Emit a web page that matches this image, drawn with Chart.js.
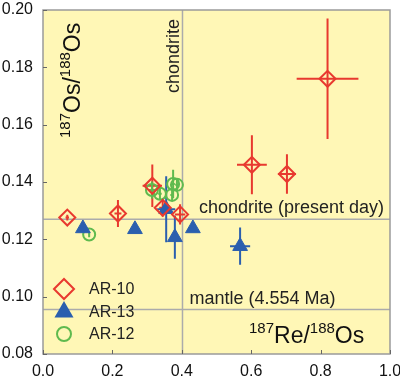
<!DOCTYPE html>
<html>
<head>
<meta charset="utf-8">
<style>
  html, body { margin: 0; padding: 0; background: #fff; }
</style>
<script src="https://cdn.jsdelivr.net/npm/chart.js@4.4.1/dist/chart.umd.min.js"></script>
</head>
<body>
<canvas id="chart" width="400" height="378"></canvas>
<script>
// Data
const ar10X  = [0.070, 0.216, 0.315, 0.345, 0.395, 0.602, 0.703, 0.820];
const ar10Y  = [0.1276, 0.1290, 0.1387, 0.1310, 0.1287, 0.1460, 0.1428, 0.1760];
const ar10Ex = [0.005, 0.010, 0.028, 0.010, 0.015, 0.043, 0.026, 0.089];
const ar10Ey = [0.001, 0.0047, 0.0074, 0.003, 0.0035, 0.0103, 0.0069, 0.021];

const ar13X  = [0.115, 0.265, 0.355, 0.380, 0.432, 0.568];
const ar13Y  = [0.1238, 0.1235, 0.1305, 0.1207, 0.1238, 0.1176];
const ar13Ex = [0, 0, 0.026, 0.010, 0, 0.029];
const ar13Ey = [0, 0, 0.0115, 0.0075, 0, 0.0065];

const ar12X  = [0.133, 0.314, 0.337, 0.375, 0.386, 0.372];
const ar12Y  = [0.1217, 0.1372, 0.1359, 0.1393, 0.1390, 0.1355];
const ar12Ex = [0.003, 0.010, 0.005, 0.005, 0.005, 0.005];
const ar12Ey = [0.001, 0.003, 0.002, 0.005, 0.002, 0.002];

const xTicks = [0.0, 0.2, 0.4, 0.6, 0.8, 1.0];
const yTicks = [0.08, 0.10, 0.12, 0.14, 0.16, 0.18, 0.20];

const chondriteRe = 0.402;      // vertical reference
const chondriteOs = 0.127;      // chondrite (present day)
const mantleOs = 0.0955;        // mantle (4.554 Ma)

const RED = '#e8392f', BLUE = '#2b5fae', GREEN = '#5fba4e';
const BG = '#fff7b6';
const FONT = '"Liberation Sans", Arial, Helvetica, sans-serif';

function points(xs, ys, exs, eys) {
  return xs.map((x, i) => ({ x, y: ys[i], ex: exs[i], ey: eys[i] }));
}

// draw text with superscript pieces
function supText(ctx, parts, x, y, big, small, rise) {
  let cx = x;
  parts.forEach(([t, sup]) => {
    ctx.font = (sup ? small : big) + 'px ' + FONT;
    ctx.fillText(t, cx, sup ? y - rise : y);
    cx += ctx.measureText(t).width;
  });
}

function marker(ctx, style, x, y, r, color) {
  ctx.save();
  ctx.strokeStyle = color;
  ctx.fillStyle = color;
  ctx.lineWidth = 2;
  ctx.beginPath();
  if (style === 'rectRot') {
    ctx.moveTo(x - r, y); ctx.lineTo(x, y - r); ctx.lineTo(x + r, y); ctx.lineTo(x, y + r);
    ctx.closePath(); ctx.stroke();
  } else if (style === 'triangle') {
    ctx.moveTo(x, y - r);
    ctx.lineTo(x + r * 0.866, y + r / 2);
    ctx.lineTo(x - r * 0.866, y + r / 2);
    ctx.closePath(); ctx.fill();
  } else {
    ctx.arc(x, y, r, 0, Math.PI * 2); ctx.stroke();
  }
  ctx.restore();
}

function noPad(s) {
  s.paddingLeft = 0; s.paddingRight = 0; s.paddingTop = 0; s.paddingBottom = 0;
}

const decor = {
  id: 'decor',
  beforeDraw(chart) {
    const { ctx, chartArea: a } = chart;
    ctx.save();
    ctx.fillStyle = BG;
    ctx.fillRect(a.left, a.top, a.right - a.left, a.bottom - a.top);
    ctx.restore();
  },
  beforeDatasetsDraw(chart) {
    const { ctx, chartArea: a, scales: { x, y } } = chart;
    ctx.save();
    // reference lines
    ctx.strokeStyle = '#ababab';
    ctx.lineWidth = 1.5;
    ctx.beginPath();
    const vx = x.getPixelForValue(chondriteRe);
    ctx.moveTo(vx, a.top); ctx.lineTo(vx, a.bottom);
    [chondriteOs, mantleOs].forEach(v => {
      const py = y.getPixelForValue(v);
      ctx.moveTo(a.left, py); ctx.lineTo(a.right, py);
    });
    ctx.stroke();
    // error bars
    chart.data.datasets.forEach(ds => {
      ctx.strokeStyle = ds.borderColor;
      ctx.lineWidth = 2;
      ctx.beginPath();
      ds.data.forEach(p => {
        const px = x.getPixelForValue(p.x), py = y.getPixelForValue(p.y);
        if (p.ey) {
          ctx.moveTo(px, y.getPixelForValue(p.y - p.ey));
          ctx.lineTo(px, y.getPixelForValue(p.y + p.ey));
        }
        if (p.ex) {
          ctx.moveTo(x.getPixelForValue(p.x - p.ex), py);
          ctx.lineTo(x.getPixelForValue(p.x + p.ex), py);
        }
      });
      ctx.stroke();
    });
    ctx.restore();
  },
  afterDraw(chart) {
    const { ctx, chartArea: a, scales: { x, y } } = chart;
    ctx.save();
    // frame
    ctx.strokeStyle = '#9a9a9a';
    ctx.lineWidth = 1.5;
    ctx.strokeRect(a.left, a.top, a.right - a.left, a.bottom - a.top);
    // inward ticks
    ctx.strokeStyle = '#666';
    ctx.lineWidth = 1;
    ctx.beginPath();
    yTicks.forEach(v => {
      const py = Math.round(y.getPixelForValue(v)) + 0.5;
      ctx.moveTo(a.left, py); ctx.lineTo(a.left + 4, py);
    });
    xTicks.forEach(v => {
      const px = Math.round(x.getPixelForValue(v)) + 0.5;
      ctx.moveTo(px, a.bottom); ctx.lineTo(px, a.bottom - 4);
    });
    ctx.stroke();

    ctx.fillStyle = '#222';
    ctx.textBaseline = 'alphabetic';
    ctx.font = '18px ' + FONT;
    // chondrite (vertical)
    const vx = x.getPixelForValue(chondriteRe);
    ctx.save();
    ctx.translate(vx - 3, a.top + 83);
    ctx.rotate(-Math.PI / 2);
    ctx.fillText('chondrite', 0, 0);
    ctx.restore();
    // horizontal labels
    ctx.textAlign = 'right';
    ctx.fillText('chondrite (present day)', a.right - 6, y.getPixelForValue(chondriteOs) - 6);
    ctx.textAlign = 'left';
    ctx.fillText('mantle (4.554 Ma)', vx + 7, y.getPixelForValue(mantleOs) - 6);

    // axis titles
    ctx.fillStyle = '#111';
    supText(ctx, [['187', true], ['Re/', false], ['188', true], ['Os', false]], 249, 343, 23, 15, 10);
    ctx.save();
    ctx.translate(80, 138);
    ctx.rotate(-Math.PI / 2);
    supText(ctx, [['187', true], ['Os/', false], ['188', true], ['Os', false]], 0, 0, 23, 15, 10);
    ctx.restore();

    // legend
    const rows = [['AR-10', 'rectRot', RED, 10, 289], ['AR-13', 'triangle', BLUE, 11, 312], ['AR-12', 'circle', GREEN, 7, 334]];
    ctx.font = '16px ' + FONT;
    ctx.textBaseline = 'middle';
    rows.forEach(([t, s, c, r, ry]) => {
      marker(ctx, s, 64, ry, r, c);
      ctx.fillStyle = '#222';
      ctx.fillText(t, 89, ry + 1);
    });
    ctx.restore();
  }
};

new Chart(document.getElementById('chart'), {
  type: 'scatter',
  data: {
    datasets: [
      { label: 'AR-10', data: points(ar10X, ar10Y, ar10Ex, ar10Ey), pointStyle: 'rectRot',
        pointRadius: 8, borderColor: RED, backgroundColor: 'rgba(0,0,0,0)', borderWidth: 2 },
      { label: 'AR-13', data: points(ar13X, ar13Y, ar13Ex, ar13Ey), pointStyle: 'triangle',
        pointRadius: 8.5, borderColor: BLUE, backgroundColor: BLUE, borderWidth: 1 },
      { label: 'AR-12', data: points(ar12X, ar12Y, ar12Ex, ar12Ey), pointStyle: 'circle',
        pointRadius: 6, borderColor: GREEN, backgroundColor: 'rgba(0,0,0,0)', borderWidth: 2 }
    ]
  },
  options: {
    responsive: false,
    animation: false,
    layout: { padding: { top: 6, right: 10, left: 0, bottom: 0 } },
    plugins: { legend: { display: false }, tooltip: { enabled: false } },
    scales: {
      x: {
        type: 'linear', min: 0, max: 1,
        afterBuildTicks: s => { s.ticks = xTicks.map(v => ({ value: v })); },
        ticks: { callback: v => v.toFixed(1), color: '#111', padding: 8,
                 font: { family: FONT, size: 16 }, maxRotation: 0 },
        grid: { display: false, drawTicks: false },
        border: { display: false },
        afterFit: s => { s.height = 24; noPad(s); }
      },
      y: {
        min: 0.08, max: 0.2,
        afterBuildTicks: s => { s.ticks = yTicks.map(v => ({ value: v })); },
        ticks: { callback: v => v.toFixed(2), color: '#111', padding: 10,
                 font: { family: FONT, size: 16 } },
        grid: { display: false, drawTicks: false },
        border: { display: false },
        afterFit: s => { s.width = 43; noPad(s); }
      }
    }
  },
  plugins: [decor]
});
</script>
</body>
</html>
